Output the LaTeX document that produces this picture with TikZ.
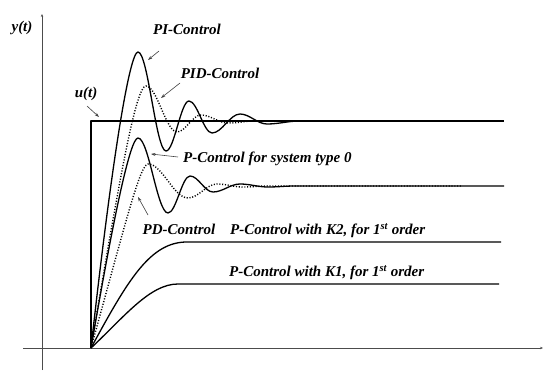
\documentclass[tikz,border=0pt]{standalone}
\usepackage{fontspec}
\setmainfont{Liberation Serif}
\usetikzlibrary{arrows.meta}
\begin{document}
\begin{tikzpicture}[x=1pt,y=-1pt,
  axis/.style={line width=0.6pt,draw=black!70,-{Stealth[length=3pt,width=2.4pt]}},
  curve/.style={line width=1.3pt,line join=round},
  dotcurve/.style={line width=1.4pt,dash pattern=on 1.1pt off 1.7pt},
  lab/.style={font=\bfseries\itshape\fontsize{15}{17}\selectfont,inner sep=0pt},
  pointer/.style={line width=0.6pt,draw=black!75,-{Stealth[length=4.5pt,width=3pt]}}]
\useasboundingbox (0,0) rectangle (555,372);
% axes
\coordinate (xs) at (23,348); \coordinate (xe) at (543,348);
\coordinate (ys) at (42,370); \coordinate (ye) at (42,14);
\draw[axis] (xs) -- (xe);
\draw[axis] (ys) -- (ye);
\coordinate (o) at (91,348);
% step input
\draw[curve,line width=1.2pt] (o) -- (91,121) -- (504,121);
% first order curves
\draw[curve] (o) .. controls (128,280) and (150,242) .. (187,242) -- (501,242);
\draw[curve] (o) .. controls (125,316) and (150,284) .. (178,284) -- (499,284);
% PI control
\draw[curve] (o) .. controls (113,150) and (130,52) .. (138,52)
  .. controls (148,52) and (156,151) .. (166,151)
  .. controls (174.3,151) and (180.7,101) .. (189,101)
  .. controls (197.3,101) and (203.7,133) .. (212,133)
  .. controls (222,133) and (230,114) .. (240,114)
  .. controls (249.7,114) and (257.3,124) .. (267,124)
  .. controls (279,124) and (288,121) .. (300,121);
% PID control
\draw[dotcurve] (o) .. controls (120,175) and (136,86) .. (146,86)
  .. controls (157,86) and (166,132) .. (177,132)
  .. controls (185.6,132) and (192.4,115) .. (201,115)
  .. controls (210.7,115) and (218.3,123) .. (228,123)
  .. controls (237.7,123) and (245.3,121) .. (255,121) -- (462,121);
% P control type 0
\draw[curve] (o) .. controls (113,220) and (130,138) .. (138,138)
  .. controls (148.8,138) and (157.2,213) .. (168,213)
  .. controls (176,213) and (182,176) .. (190,176)
  .. controls (198.3,176) and (204.7,192) .. (213,192)
  .. controls (222.7,192) and (230.3,184) .. (240,184)
  .. controls (250,184) and (258,187) .. (268,187)
  .. controls (277.7,187) and (285.3,186) .. (295,186) -- (504,186);
% PD control
\draw[dotcurve] (o) .. controls (125,225) and (140,164) .. (148,164)
  .. controls (162.4,164) and (173.6,198) .. (188,198)
  .. controls (198.4,198) and (206.6,184) .. (217,184)
  .. controls (226.4,184) and (233.6,187) .. (243,187)
  .. controls (252,187) and (259,186) .. (268,186) -- (462,186);
% labels
\node[lab] (ly) at (22,28) {y(t)};
\node[lab] (lpi) at (187,29) {PI-Control};
\node[lab] (lpid) at (220,73) {PID-Control};
\node[lab] (lu) at (86,94) {u(t)};
\node[lab,anchor=west] (lp0) at (183,159) {P-Control for system type 0};
\node[lab] (lpd) at (179,229) {PD-Control};
\node[lab,anchor=west] (lk2) at (230,231) {P-Control with K2, for 1\textsuperscript{st} order};
\node[lab,anchor=west] (lk1) at (229,273) {P-Control with K1, for 1\textsuperscript{st} order};
% pointers
\coordinate (pia) at (159,51); \coordinate (pib) at (148,60);
\coordinate (pida) at (180,83); \coordinate (pidb) at (161,98);
\coordinate (ua) at (87,106); \coordinate (ub) at (99,117);
\coordinate (p0a) at (178,157); \coordinate (p0b) at (151,154);
\coordinate (pda) at (148,215); \coordinate (pdb) at (138,197);
\draw[pointer] (pia) -- (pib);
\draw[pointer] (pida) -- (pidb);
\draw[pointer] (ua) -- (ub);
\draw[pointer] (p0a) -- (p0b);
\draw[pointer] (pda) -- (pdb);
\end{tikzpicture}
\end{document}
